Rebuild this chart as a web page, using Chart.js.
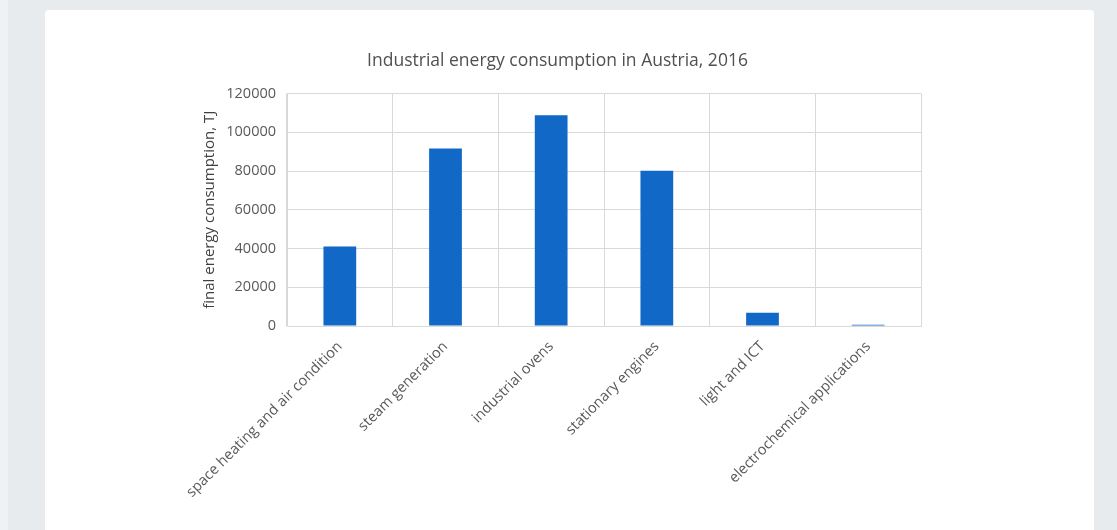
<!DOCTYPE html>
<html>
<head>
<meta charset="utf-8">
<script src="https://cdn.jsdelivr.net/npm/chart.js@4"></script>
<style>
    html, body {
        margin: 0;
        padding: 0;
        width: 1117px;
        height: 530px;
        overflow: hidden;
        background: #e8ebee;
    }
    .edge {
        position: absolute;
        left: 0;
        top: 0;
        width: 8px;
        height: 530px;
        background: #eff1f3;
    }
    .card {
        position: absolute;
        left: 45px;
        top: 10px;
        width: 1049px;
        height: 530px;
        background: #ffffff;
        border-radius: 4px;
    }
    #energy-chart {
        position: absolute;
        left: 0;
        top: 0;
    }
</style>
</head>
<body>
<div class="edge"></div>
<div class="card">
    <canvas id="energy-chart" width="1049" height="520"></canvas>
</div>
<script>
const usageCategories = [
    'space heating and air condition',
    'steam generation',
    'industrial ovens',
    'stationary engines',
    'light and ICT',
    'electrochemical applications'
];
const consumptionTJ = [41000, 91600, 108800, 80100, 6900, 700];
const yTicks = [0, 20000, 40000, 60000, 80000, 100000, 120000];

const barBlue = '#1168c6';
const gridGrey = '#d9d9d9';
const labelGrey = '#595959';
const fontFamily = '"Open Sans", sans-serif';

new Chart(document.getElementById('energy-chart'), {
    type: 'bar',
    data: {
        labels: usageCategories,
        datasets: [{
            label: 'final energy consumption, TJ',
            data: consumptionTJ,
            backgroundColor: barBlue,
            borderWidth: 0,
            barPercentage: 0.62,
            categoryPercentage: 0.5
        }]
    },
    options: {
        responsive: false,
        animation: false,
        layout: {
            padding: { left: 149, right: 173, top: 0, bottom: 0 }
        },
        plugins: {
            legend: { display: false },
            tooltip: { enabled: false },
            title: {
                display: true,
                text: 'Industrial energy consumption in Austria, 2016',
                color: '#505050',
                font: { family: fontFamily, size: 17.5, weight: 'normal' },
                padding: { top: 40.5, bottom: 22 }
            }
        },
        scales: {
            x: {
                grid: {
                    color: gridGrey,
                    drawTicks: false,
                    offset: true
                },
                border: { color: gridGrey },
                ticks: {
                    color: labelGrey,
                    font: { family: fontFamily, size: 14.6 },
                    maxRotation: 45,
                    minRotation: 45,
                    padding: 12
                },
                afterFit: scale => { scale.height = 204; }
            },
            y: {
                min: 0,
                max: 120000,
                afterBuildTicks: scale => {
                    scale.ticks = yTicks.map(v => ({ value: v }));
                },
                grid: {
                    color: gridGrey,
                    drawTicks: false
                },
                border: { color: gridGrey },
                ticks: {
                    color: labelGrey,
                    font: { family: fontFamily, size: 14.5 },
                    padding: 11,
                    callback: v => String(v)
                },
                title: {
                    display: true,
                    text: 'final energy consumption, TJ',
                    color: '#404040',
                    font: { family: fontFamily, size: 15 },
                    padding: { top: 7, bottom: 4 }
                },
                afterFit: scale => { scale.width = 93; }
            }
        }
    }
});
</script>
</body>
</html>
